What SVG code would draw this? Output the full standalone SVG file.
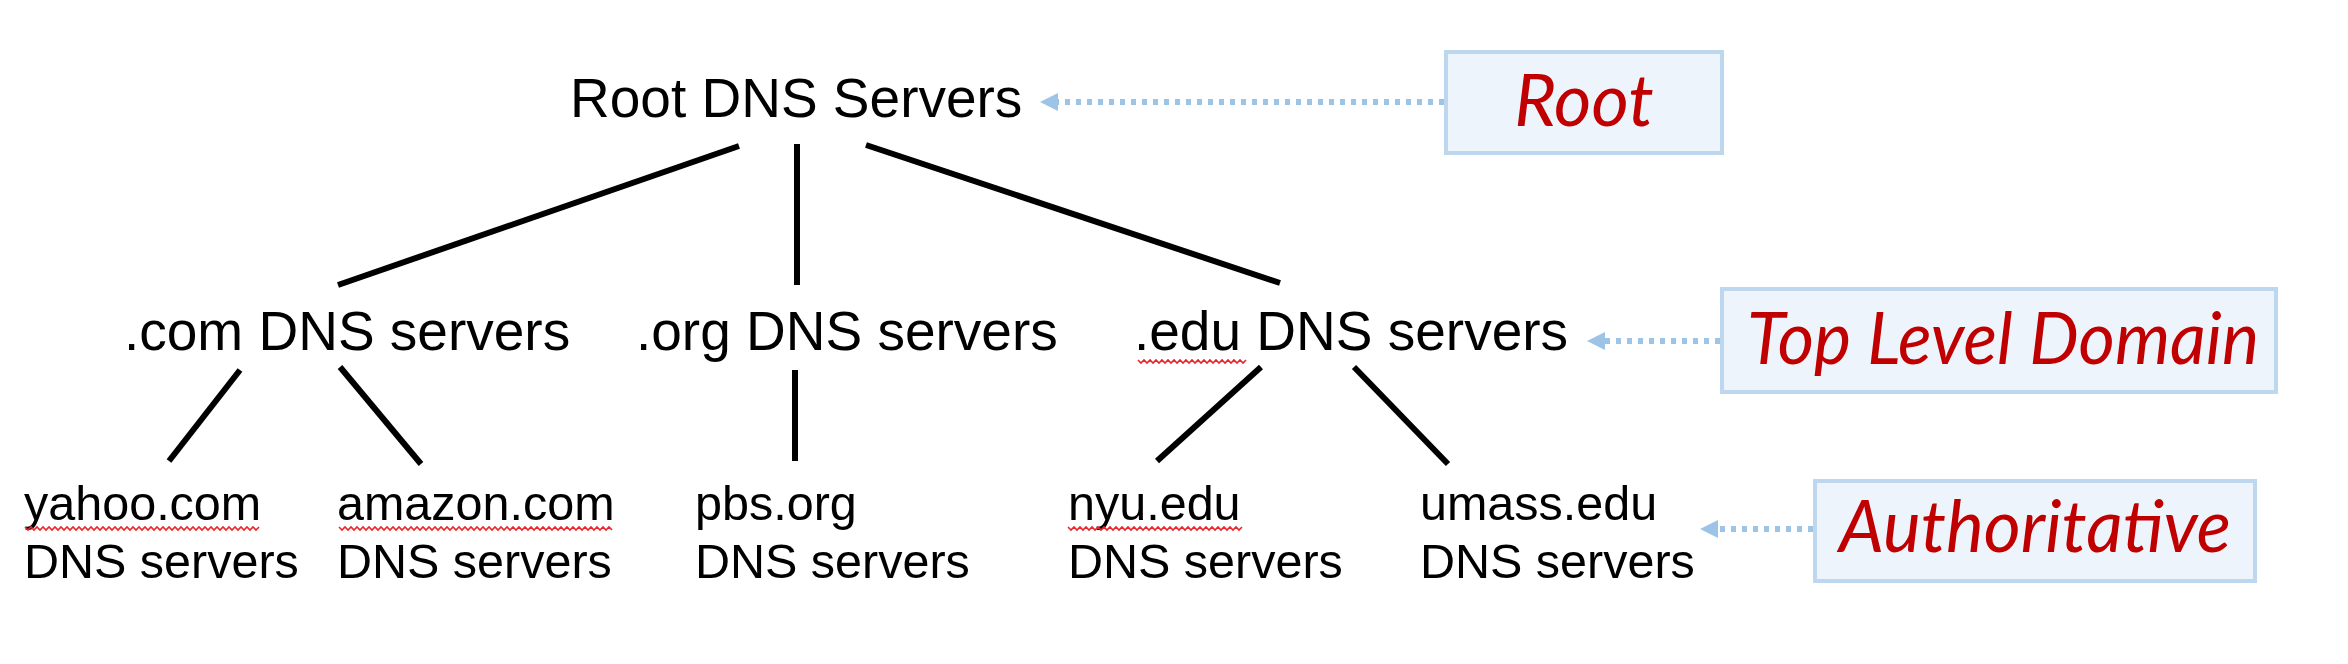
<svg xmlns="http://www.w3.org/2000/svg" width="2348" height="664" viewBox="0 0 2348 664">
<style>
.t{font-family:"Liberation Sans",Arial,sans-serif;fill:#000}
.big{font-size:55px}
.sm{font-size:48.5px}
.lbl{font-family:Lato,"Open Sans",sans-serif;font-style:italic;fill:#C00000;font-size:72px}
.box{fill:#EEF4FB;stroke:#BDD7EE;stroke-width:4}
.edge{stroke:#000;stroke-width:6;fill:none}
.dot{stroke:#9DC3E6;stroke-width:6;stroke-dasharray:5 6;fill:none}
.sq{stroke:#E8262C;stroke-width:1.6;fill:none}
</style>
<defs>
<marker id="ah" markerWidth="20" markerHeight="20" refX="0" refY="9" orient="auto" markerUnits="userSpaceOnUse" viewBox="0 0 20 20" overflow="visible">
<path d="M0,0 L18,9 L0,18 Z" fill="#9DC3E6"/>
</marker>
</defs>
<g id="connectors">
<line class="edge" x1="739" y1="146" x2="338" y2="285"/>
<line class="edge" x1="797" y1="144" x2="797" y2="285"/>
<line class="edge" x1="866" y1="145" x2="1280" y2="283"/>
<line class="edge" x1="240" y1="370" x2="169" y2="461"/>
<line class="edge" x1="340" y1="367" x2="421" y2="464"/>
<line class="edge" x1="795" y1="370" x2="795" y2="461"/>
<line class="edge" x1="1261" y1="367" x2="1157" y2="461"/>
<line class="edge" x1="1354" y1="367" x2="1448" y2="464"/>
<line class="dot" x1="1444" y1="102" x2="1058" y2="102" marker-end="url(#ah)"/>
<line class="dot" x1="1720" y1="341" x2="1605" y2="341" marker-end="url(#ah)"/>
<line class="dot" x1="1813" y1="529" x2="1718" y2="529" marker-end="url(#ah)"/>
</g>
<g id="root"><text class="t big" x="570" y="117">Root DNS Servers</text></g>
<g id="com"><text class="t big" x="124" y="350">.com DNS servers</text></g>
<g id="org"><text class="t big" x="636" y="350">.org DNS servers</text></g>
<g id="edu"><text class="t big" x="1134" y="350">.edu DNS servers</text>
<polyline class="sq" points="1138,360 1141,363 1144,360 1147,363 1150,360 1153,363 1156,360 1159,363 1162,360 1165,363 1168,360 1171,363 1174,360 1177,363 1180,360 1183,363 1186,360 1189,363 1192,360 1195,363 1198,360 1201,363 1204,360 1207,363 1210,360 1213,363 1216,360 1219,363 1222,360 1225,363 1228,360 1231,363 1234,360 1237,363 1240,360 1243,363 1246,360"/></g>
<g id="yahoo"><text class="t sm" x="24" y="520">yahoo.com</text><text class="t sm" x="24" y="578">DNS servers</text>
<polyline class="sq" points="25,527 28,530 31,527 34,530 37,527 40,530 43,527 46,530 49,527 52,530 55,527 58,530 61,527 64,530 67,527 70,530 73,527 76,530 79,527 82,530 85,527 88,530 91,527 94,530 97,527 100,530 103,527 106,530 109,527 112,530 115,527 118,530 121,527 124,530 127,527 130,530 133,527 136,530 139,527 142,530 145,527 148,530 151,527 154,530 157,527 160,530 163,527 166,530 169,527 172,530 175,527 178,530 181,527 184,530 187,527 190,530 193,527 196,530 199,527 202,530 205,527 208,530 211,527 214,530 217,527 220,530 223,527 226,530 229,527 232,530 235,527 238,530 241,527 244,530 247,527 250,530 253,527 256,530 259,527"/></g>
<g id="amazon"><text class="t sm" x="337" y="520">amazon.com</text><text class="t sm" x="337" y="578">DNS servers</text>
<polyline class="sq" points="339,527 342,530 345,527 348,530 351,527 354,530 357,527 360,530 363,527 366,530 369,527 372,530 375,527 378,530 381,527 384,530 387,527 390,530 393,527 396,530 399,527 402,530 405,527 408,530 411,527 414,530 417,527 420,530 423,527 426,530 429,527 432,530 435,527 438,530 441,527 444,530 447,527 450,530 453,527 456,530 459,527 462,530 465,527 468,530 471,527 474,530 477,527 480,530 483,527 486,530 489,527 492,530 495,527 498,530 501,527 504,530 507,527 510,530 513,527 516,530 519,527 522,530 525,527 528,530 531,527 534,530 537,527 540,530 543,527 546,530 549,527 552,530 555,527 558,530 561,527 564,530 567,527 570,530 573,527 576,530 579,527 582,530 585,527 588,530 591,527 594,530 597,527 600,530 603,527 606,530 609,527 612,530"/></g>
<g id="pbs"><text class="t sm" x="695" y="520">pbs.org</text><text class="t sm" x="695" y="578">DNS servers</text></g>
<g id="nyu"><text class="t sm" x="1068" y="520">nyu.edu</text><text class="t sm" x="1068" y="578">DNS servers</text>
<polyline class="sq" points="1068,527 1071,530 1074,527 1077,530 1080,527 1083,530 1086,527 1089,530 1092,527 1095,530 1098,527 1101,530 1104,527 1107,530 1110,527 1113,530 1116,527 1119,530 1122,527 1125,530 1128,527 1131,530 1134,527 1137,530 1140,527 1143,530 1146,527 1149,530 1152,527 1155,530 1158,527 1161,530 1164,527 1167,530 1170,527 1173,530 1176,527 1179,530 1182,527 1185,530 1188,527 1191,530 1194,527 1197,530 1200,527 1203,530 1206,527 1209,530 1212,527 1215,530 1218,527 1221,530 1224,527 1227,530 1230,527 1233,530 1236,527 1239,530 1242,527"/></g>
<g id="umass"><text class="t sm" x="1420" y="520">umass.edu</text><text class="t sm" x="1420" y="578">DNS servers</text></g>
<g id="label-root"><rect class="box" x="1446" y="52" width="276" height="101"/><text class="lbl" x="1584" y="126" text-anchor="middle">Root</text></g>
<g id="label-tld"><rect class="box" x="1722" y="289" width="554" height="103"/><text class="lbl" x="2003" y="364" text-anchor="middle" textLength="512" lengthAdjust="spacingAndGlyphs">Top Level Domain</text></g>
<g id="label-auth"><rect class="box" x="1815" y="481" width="440" height="100"/><text class="lbl" x="2035" y="552" text-anchor="middle" textLength="392" lengthAdjust="spacingAndGlyphs">Authoritative</text></g>
</svg>
